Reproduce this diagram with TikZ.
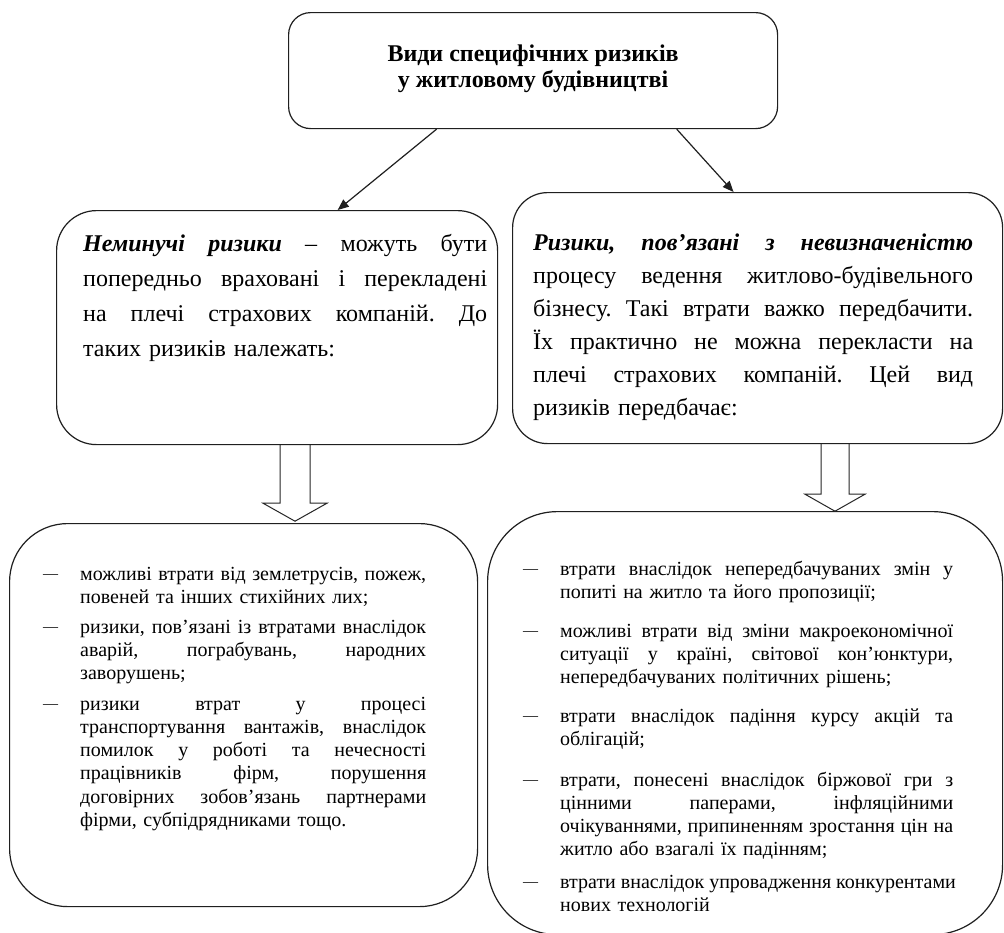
\documentclass[tikz,border=0pt]{standalone}
\usepackage{fontspec}
\setmainfont{Liberation Serif}
\usetikzlibrary{arrows.meta,calc}
\frenchspacing
\hyphenpenalty=10000
\exhyphenpenalty=10000
\newcommand\JL[1]{\hbox to\linewidth{\spaceskip=.25em plus 1fil\relax #1}\par\noindent}
\newcommand\LL[1]{\hbox{#1}}
\newcommand\DS{\llap{\hbox to 37pt{\raisebox{1.5pt}{\fontsize{15}{15}\selectfont —}\hfil}}}
\tikzset{
  rbox/.style={draw=black!88, line width=1.2pt, inner sep=0pt, anchor=north west},
  conn/.style={draw=black!88, line width=1.2pt, -{Triangle[length=11pt,width=9pt]}},
  hollow/.style={draw=black!85, line width=1pt, line join=miter},
  midtxt/.style={anchor=base west, inner sep=0pt, font=\frenchspacing\fontsize{24}{35}\selectfont},
  midtxtr/.style={anchor=base west, inner sep=0pt, font=\frenchspacing\fontsize{24}{33}\selectfont},
  item/.style={anchor=base west, inner sep=0pt, font=\frenchspacing\fontsize{20}{23.3}\selectfont},
}
\begin{document}
\begin{tikzpicture}[x=1pt,y=-1pt]
\useasboundingbox (0,0) rectangle (1004,932);
\fill[white] (0,0) rectangle (1004,932);

% boxes
\node[rbox, rounded corners=22pt, minimum width=489pt, minimum height=116pt] (T) at (288,12) {};
\node[rbox, rounded corners=40pt, minimum width=441pt, minimum height=234pt] (L) at (56,210) {};
\node[rbox, rounded corners=35pt, minimum width=490pt, minimum height=251pt] (R) at (512,192) {};
\node[rbox, rounded corners=58pt, minimum width=468pt, minimum height=383pt] (D1) at (9,523) {};
\node[rbox, rounded corners=70pt, minimum width=515pt, minimum height=423pt] (D2) at (487,511) {};

% title
\node[align=center, inner sep=0pt, font=\bfseries\fontsize{24}{26.5}\selectfont] (Tt) at ($(T.center)+(0,-2)$)
  {Види специфічних ризиків\\у житловому будівництві};

% connectors
\draw[conn] ($(T.south west)!0.303!(T.south east)$) -- ($(L.north west)!0.637!(L.north east)$);
\draw[conn] ($(T.south west)!0.793!(T.south east)$) -- ($(R.north west)!0.451!(R.north east)$);

% hollow arrows
\draw[hollow] ($(L.south west)+(224,0)$) -- ++(0,58) -- ++(-17,0) -- ++(32,18) -- ++(32,-18) -- ++(-17,0) -- ++(0,-58);
\draw[hollow] ($(R.south west)+(309,0)$) -- ++(0,50) -- ++(-16,0) -- ++(30,17) -- ++(30,-17) -- ++(-16,0) -- ++(0,-50);

% middle texts
\node[midtxt, text width=404pt] (Lt) at (83,251) {%
\JL{\textbf{\textit{Неминучі ризики}} – можуть бути}%
\JL{попередньо враховані і перекладені}%
\JL{на плечі страхових компаній. До}%
\LL{таких ризиків належать:}};

\node[midtxtr, text width=440pt] (Rt) at (533,250) {%
\JL{\textbf{\textit{Ризики, пов’язані з невизначеністю}}}%
\JL{процесу ведення житлово-будівельного}%
\JL{бізнесу. Такі втрати важко передбачити.}%
\JL{Їх практично не можна перекласти на}%
\JL{плечі страхових компаній. Цей вид}%
\LL{ризиків передбачає:}};

% lower left items
\node[item, text width=346pt] (a1) at (80,580) {%
\JL{\DS можливі втрати від землетрусів, пожеж,}%
\LL{повеней та інших стихійних лих;}};
\node[item, text width=346pt] (a2) at (80,633) {%
\JL{\DS ризики, пов’язані із втратами внаслідок}%
\JL{аварій, пограбувань, народних}%
\LL{заворушень;}};
\node[item, text width=346pt] (a3) at (80,710) {%
\JL{\DS ризики втрат у процесі}%
\JL{транспортування вантажів, внаслідок}%
\JL{помилок у роботі та нечесності}%
\JL{працівників фірм, порушення}%
\JL{договірних зобов’язань партнерами}%
\LL{фірми, субпідрядниками тощо.}};

% lower right items
\node[item, text width=393pt] (b1) at (560,575) {%
\JL{\DS втрати внаслідок непередбачуваних змін у}%
\LL{попиті на житло та його пропозиції;}};
\node[item, text width=393pt] (b2) at (560,637) {%
\JL{\DS можливі втрати від зміни макроекономічної}%
\JL{ситуації у країні, світової кон’юнктури,}%
\LL{непередбачуваних політичних рішень;}};
\node[item, text width=393pt] (b3) at (560,722) {%
\JL{\DS втрати внаслідок падіння курсу акцій та}%
\LL{облігацій;}};
\node[item, text width=393pt] (b4) at (560,786) {%
\JL{\DS втрати, понесені внаслідок біржової гри з}%
\JL{цінними паперами, інфляційними}%
\JL{очікуваннями, припиненням зростання цін на}%
\LL{житло або взагалі їх падінням;}};
\node[item, text width=393pt] (b5) at (560,888) {%
\JL{\DS втрати внаслідок упровадження конкурентами}%
\LL{нових технологій}};
\end{tikzpicture}
\end{document}
